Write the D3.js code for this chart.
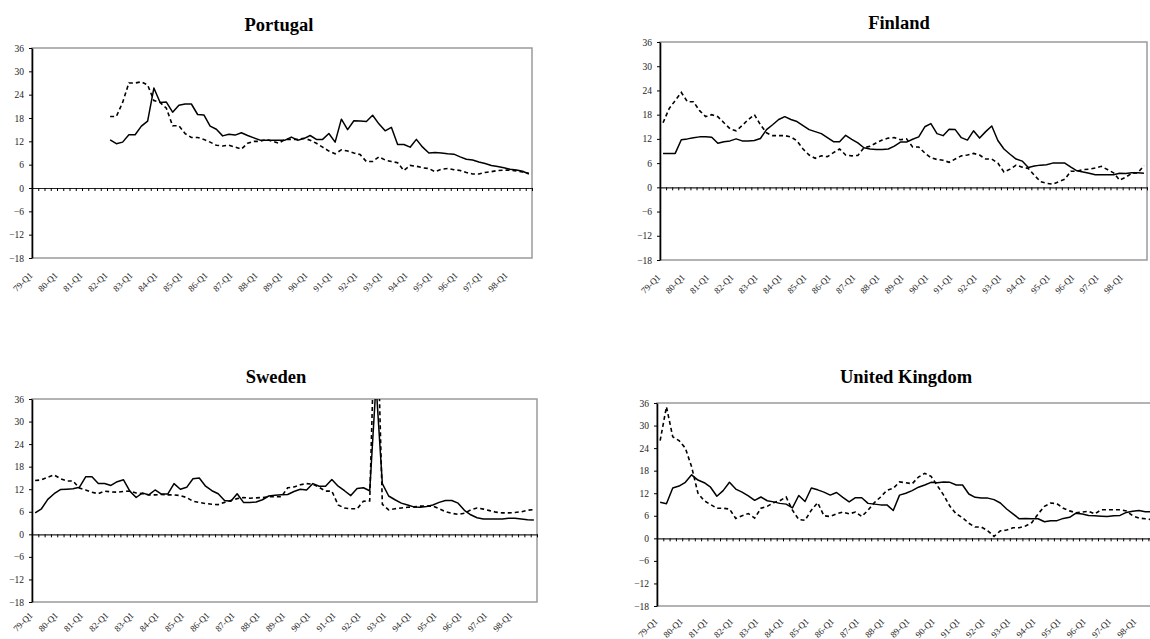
<!DOCTYPE html>
<html>
<head>
<meta charset="utf-8">
<script src="https://cdn.jsdelivr.net/npm/d3@7"></script>
<style>
body { margin: 0; background: #fff; }
svg { display: block; }
text { font-family: "Liberation Serif", "Times New Roman", serif; }
</style>
</head>
<body>
<svg width="1150" height="639"></svg>
<script>
// categories: quarterly, 79-Q1 .. 98-Q4
var years = ["79", "80", "81", "82", "83", "84", "85", "86", "87", "88",
    "89", "90", "91", "92", "93", "94", "95", "96", "97", "98"];
var quarters = [];
years.forEach(function(y) {
    for (var q = 1; q <= 4; q++) quarters.push(y + "-Q" + q);
});
var labelQuarters = years.map(function(y) { return y + "-Q1"; });
var yTicks = [-18, -12, -6, 0, 6, 12, 18, 24, 30, 36];

var _ = null;

var portugalSolid = [_, _, _, _, _, _, _, _, _, _, _, _,
    12.4, 11.4, 11.8, 13.7, 13.7, 15.9, 17.2, 25.7, 22, 22.1, 19.5, 21.3, 21.6, 21.6, 18.9, 18.8,
    15.9, 15.1, 13.4, 13.8, 13.6, 14.2, 13.5, 12.9, 12.3, 12.3, 12.3, 12.3, 12.3, 13.1, 12.3, 12.7,
    13.5, 12.5, 12.5, 14, 11.8, 17.7, 15, 17.3, 17.2, 17.1, 18.7, 16.5, 14.7, 15.6, 11.2, 11.2,
    10.5, 12.5, 10.5, 9, 9.1, 9, 8.8, 8.7, 8, 7.4, 7.2, 6.7, 6.3, 5.8, 5.5, 5.2, 4.8, 4.6, 4.3, 3.6];
var portugalDashed = [_, _, _, _, _, _, _, _, _, _, _, _,
    18.4, 18.4, 22, 27, 27, 27.3, 26.5, 22.5, 22, 20.5, 16, 16, 14, 13, 13, 12.5,
    11.8, 11, 10.8, 11, 10.5, 10, 11.5, 12, 12, 12.5, 12, 11.5, 12.5, 12.5, 12.5, 12.8,
    12.3, 11.5, 10.5, 9.5, 8.8, 9.8, 9.5, 9, 8.6, 6.8, 6.8, 8, 7.2, 6.8, 6.5, 4.5,
    5.8, 5.6, 5.2, 5, 4.2, 4.8, 5, 4.7, 4.5, 4, 3.6, 3.6, 4, 4.2, 4.5, 4.6, 4.6, 4.4, 4.1, 3.8];

var finlandSolid = [8.4, 8.4, 8.4, 11.8, 12, 12.3, 12.5, 12.5, 12.4, 10.9,
    11.3, 11.5, 12, 11.5, 11.5, 11.6, 12.1, 14.3, 15.5, 16.8,
    17.5, 16.8, 16.3, 15.3, 14.3, 13.8, 13.3, 12.3, 11.3, 11.3,
    12.9, 11.9, 11, 9.8, 9.5, 9.4, 9.4, 9.5, 10.2, 11.2,
    11.2, 11.9, 12.5, 15, 15.8, 13.3, 12.8, 14.4, 14.3, 12.3,
    11.7, 14, 12.2, 13.8, 15.2, 11.6, 9.5, 8.2, 7, 6.5,
    4.9, 5.3, 5.5, 5.6, 6, 6, 6, 5, 4.1, 3.8,
    3.5, 3.1, 3.1, 3.1, 3.1, 3.5, 3.4, 3.6, 3.6, 3.5];
var finlandDashed = [16, 19.5, 21.5, 23.5, 21.2, 21.2, 19, 17.5, 18, 17.5,
    16, 14.5, 14, 15.3, 16.8, 18, 15.5, 13.5, 12.8, 12.8,
    12.8, 12.5, 11.5, 9.5, 8, 7.2, 7.8, 7.6, 8.6, 9.5,
    8, 7.8, 7.9, 9.8, 10.2, 11, 11.7, 12.2, 12.3, 11.8,
    12, 10, 10, 8.5, 7.3, 6.9, 6.7, 6.2, 7, 7.8,
    8, 8.4, 8, 7, 7, 6, 3.8, 4.5, 5.5, 5,
    4.7, 3, 1.4, 1, 0.8, 1.4, 2, 4, 4, 4.4,
    4.5, 4.8, 5.2, 4.4, 3.6, 1.8, 2.5, 3.5, 3.6, 5.4];

var swedenSolid = [5.7, 6.8, 9.3, 10.8, 11.9, 12, 12.1, 12.5, 15.3, 15.3,
    13.5, 13.5, 13, 14, 14.5, 11.5, 9.8, 11, 10.5, 11.8,
    10.7, 10.7, 13.5, 12, 12.5, 14.8, 15, 12.8, 11.6, 10.8,
    9, 8.8, 10.8, 8.5, 8.5, 8.6, 9.2, 10.2, 10.4, 10.5,
    10.6, 11.4, 12, 11.8, 13.5, 12.8, 12.8, 14.6, 12.8, 11.6,
    10.3, 12.2, 12.4, 11.6, 40, 13.5, 10.2, 9.2, 8.3, 7.8,
    7.3, 7.2, 7.4, 7.8, 8.5, 9, 9, 8.3, 6.4, 5.2,
    4.4, 4.1, 4.1, 4.1, 4.1, 4.3, 4.3, 4.1, 3.9, 3.8];
var swedenDashed = [14.3, 14.5, 15.2, 15.8, 14.8, 14.2, 14.2, 12.3, 11.8, 11.2,
    10.8, 11.5, 11.3, 11.2, 11.4, 11.5, 11, 10.8, 10.5, 10.5,
    10.6, 10.5, 10.5, 10.3, 9.8, 8.8, 8.5, 8.2, 8, 7.9,
    8.5, 9, 9.5, 9.8, 9.6, 9.7, 9.8, 10, 10, 10,
    12.4, 12.6, 13.2, 13.5, 13.3, 12.5, 11.5, 11.5, 7.8, 7,
    6.8, 6.8, 8.8, 8.9, 70, 8, 6.5, 6.8, 7, 7.2,
    7.3, 7.5, 7.5, 7.5, 6.8, 6, 5.6, 5.3, 5.6, 6.5,
    7, 6.7, 6.3, 5.9, 5.7, 5.7, 5.8, 6, 6.4, 6.6];

var ukSolid = [9.6, 9.2, 13.4, 13.9, 14.9, 16.9, 15.5, 14.8, 13.6, 11.2,
    12.7, 14.9, 13.1, 12.3, 11.3, 10.1, 11, 10, 9.7, 9.3,
    9.1, 8.1, 11.4, 9.8, 13.4, 12.9, 12.3, 11.5, 12.2, 10.9,
    9.7, 10.8, 10.8, 9.3, 9.1, 8.9, 8.9, 7.4, 11.5, 12,
    12.7, 13.6, 14.2, 14.9, 14.8, 15, 14.9, 14.2, 14.2, 11.8,
    10.9, 10.7, 10.7, 10.3, 9.4, 7.8, 6.5, 5.2, 5.3, 5.2,
    5.2, 4.4, 4.7, 4.7, 5.3, 5.6, 6.7, 6.5, 6.1, 6,
    5.9, 5.8, 6, 6.1, 6.9, 7.2, 7.4, 7.1, 7.1, 7.2];
var ukDashed = [26, 35, 27, 26, 24, 19, 12, 10, 9, 8,
    8, 7.8, 5.3, 6, 6.6, 5.4, 8, 8.5, 9.5, 10,
    11, 7.5, 5, 4.8, 7.5, 9.5, 6, 5.8, 6.5, 7,
    6.5, 7, 5.8, 7.5, 9.5, 11, 12.8, 13.3, 15, 14.8,
    14.5, 16.3, 17.3, 16.5, 14, 11.5, 8.5, 6.5, 5.5, 4,
    3, 3, 2, 0.5, 2, 2.2, 2.8, 2.8, 3.3, 4.2,
    6.5, 8.5, 9.4, 9.2, 8, 7.3, 6.8, 7, 7.2, 6.5,
    7.6, 7.6, 7.6, 7.6, 7.3, 6, 5.4, 5.2, 5, 5];

// panel layout
var panels = [
    { title: "Portugal", solid: portugalSolid, dashed: portugalDashed,
      left: 32, top: 48, right: 532, bottom: 258, titleX: 279, titleY: 31, labelDy: 18 },
    { title: "Finland", solid: finlandSolid, dashed: finlandDashed,
      left: 660, top: 42, right: 1147, bottom: 260, titleX: 899, titleY: 29, labelDy: 18 },
    { title: "Sweden", solid: swedenSolid, dashed: swedenDashed,
      left: 32, top: 399, right: 537, bottom: 602, titleX: 276, titleY: 383, labelDy: 14 },
    { title: "United Kingdom", solid: ukSolid, dashed: ukDashed,
      left: 657, top: 403, right: 1161, bottom: 606, titleX: 906, titleY: 383, labelDy: 16 }
];

var svg = d3.select("svg");

panels.forEach(function(p, k) {
    var x = d3.scaleBand().domain(quarters).range([p.left, p.right]);
    var xEdge = d3.scaleLinear().domain([0, quarters.length]).range([p.left, p.right]);
    var y = d3.scaleLinear().domain([-18, 36]).range([p.bottom, p.top]);

    var g = svg.append("g");

    g.append("clipPath")
        .attr("id", "clip" + k)
        .append("rect")
        .attr("x", p.left)
        .attr("y", p.top)
        .attr("width", p.right - p.left)
        .attr("height", p.bottom - p.top);

    // title
    g.append("text")
        .attr("x", p.titleX)
        .attr("y", p.titleY)
        .attr("text-anchor", "middle")
        .style("font-size", "18.5px")
        .style("font-weight", "bold")
        .text(p.title);

    // plot frame
    g.append("rect")
        .attr("x", p.left)
        .attr("y", p.top)
        .attr("width", p.right - p.left)
        .attr("height", p.bottom - p.top)
        .attr("fill", "none")
        .attr("stroke", "#9a9a9a")
        .attr("stroke-width", 1.5);

    // zero line with quarter ticks
    var zeroAxis = g.append("g")
        .attr("transform", "translate(0," + y(0) + ")")
        .call(d3.axisBottom(xEdge)
            .tickValues(d3.range(quarters.length + 1))
            .tickSize(3)
            .tickSizeOuter(0)
            .tickFormat(""));
    zeroAxis.select(".domain").attr("stroke", "#222").attr("stroke-width", 1.2);
    zeroAxis.selectAll(".tick line").attr("stroke", "#000").attr("stroke-width", 1);

    // y axis
    var yAxis = g.append("g")
        .attr("transform", "translate(" + p.left + ",0)")
        .call(d3.axisLeft(y)
            .tickValues(yTicks)
            .tickSize(3)
            .tickSizeOuter(0)
            .tickPadding(5));
    yAxis.select(".domain").attr("stroke", "#000").attr("stroke-width", 1.6);
    yAxis.selectAll(".tick line").attr("stroke", "#000");
    yAxis.selectAll(".tick text")
        .attr("fill", "#222")
        .style("font-size", "9.5px")
        .style("font-family", "'Liberation Serif', 'Times New Roman', serif");

    // x labels
    var xAxis = g.append("g")
        .attr("transform", "translate(0," + (p.bottom + p.labelDy) + ")")
        .call(d3.axisBottom(x)
            .tickValues(labelQuarters)
            .tickSize(0));
    xAxis.select(".domain").remove();
    xAxis.selectAll(".tick text")
        .attr("x", 0)
        .attr("y", 0)
        .attr("dy", 0)
        .attr("transform", "translate(-2,0) rotate(-45)")
        .attr("text-anchor", "end")
        .attr("fill", "#222")
        .style("font-size", "9px")
        .style("font-family", "'Liberation Serif', 'Times New Roman', serif");

    var line = d3.line()
        .defined(function(d) { return d !== null; })
        .x(function(d, i) { return x(quarters[i]) + x.bandwidth() / 2; })
        .y(function(d) { return y(d); });

    var lines = g.append("g").attr("clip-path", "url(#clip" + k + ")");

    lines.append("path")
        .datum(p.dashed)
        .attr("d", line)
        .attr("fill", "none")
        .attr("stroke", "#000")
        .attr("stroke-width", 1.6)
        .attr("stroke-dasharray", "4,3");

    lines.append("path")
        .datum(p.solid)
        .attr("d", line)
        .attr("fill", "none")
        .attr("stroke", "#000")
        .attr("stroke-width", 1.5)
        .attr("stroke-linejoin", "round");
});
</script>
</body>
</html>
